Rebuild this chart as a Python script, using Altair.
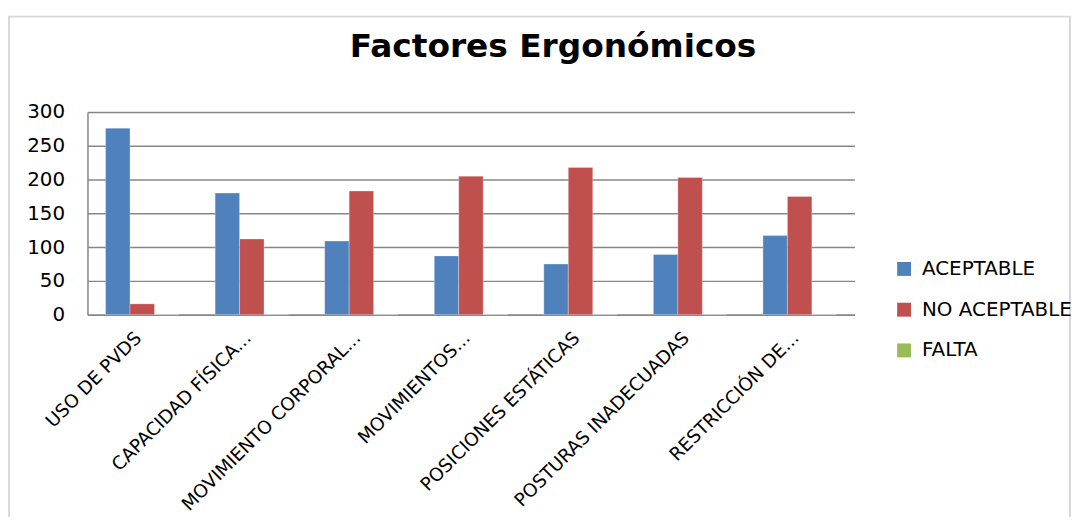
import altair as alt
import pandas as pd

categories = ["USO DE PVDS", "CAPACIDAD FÍSICA...", "MOVIMIENTO CORPORAL...", "MOVIMIENTOS...",
              "POSICIONES ESTÁTICAS", "POSTURAS INADECUADAS", "RESTRICCIÓN DE..."]
series = ["ACEPTABLE", "NO ACEPTABLE", "FALTA"]
aceptable = [276, 180, 109, 87, 75, 89, 117]
no_aceptable = [16, 112, 183, 205, 218, 203, 175]
falta = [0, 0, 0, 0, 0, 0, 0]
colors = ["#4F81BD", "#C0504D", "#9BBB59"]
y_ticks = [0, 50, 100, 150, 200, 250, 300]

rows = []
for vals, s in zip([aceptable, no_aceptable, falta], series):
    for c, v in zip(categories, vals):
        rows.append({"cat": c, "serie": s, "valor": v})
df = pd.DataFrame(rows)

font = "DejaVu Sans"

bars = alt.Chart(df).mark_bar(stroke="#FFFFFF", strokeOpacity=0.5, strokeWidth=0.6).encode(
    x=alt.X("cat:N", sort=categories, title=None,
            scale=alt.Scale(paddingInner=0.33, paddingOuter=0.165),
            axis=alt.Axis(labelAngle=-45, labelAlign="right", labelBaseline="middle",
                          labelFont=font, labelFontSize=18.5, labelColor="#000000",
                          labelPadding=20, labelOffset=-4, ticks=False, domainColor="#868686",
                          domainWidth=1.5, labelLimit=400)),
    xOffset=alt.XOffset("serie:N", sort=series, scale=alt.Scale(paddingInner=0, paddingOuter=0)),
    y=alt.Y("valor:Q", title=None,
            scale=alt.Scale(domain=[0, 300], nice=False),
            axis=alt.Axis(values=y_ticks, labelFont=font, labelFontSize=20, labelColor="#000000",
                          ticks=False, labelPadding=23, gridColor="#868686", gridWidth=1.5,
                          domainColor="#868686", domainWidth=1.5)),
    color=alt.Color("serie:N", sort=series, title=None,
                    scale=alt.Scale(domain=series, range=colors),
                    legend=alt.Legend(orient="none", legendX=812, legendY=148,
                                      symbolType="square", symbolSize=196,
                                      symbolStrokeWidth=0, labelFont=font,
                                      labelFontSize=20, labelColor="#000000",
                                      rowPadding=21, labelOffset=8, padding=0)),
)

frame = alt.Chart(pd.DataFrame({"k": [0]})).mark_rect(
    fill=None, stroke="#D9D9D9", strokeWidth=2
).encode(x=alt.value(-79), x2=alt.value(989), y=alt.value(-96), y2=alt.value(440))

chart = alt.layer(frame, bars).properties(
    width=772, height=204,
    title=alt.TitleParams("Factores Ergonómicos", font=font, fontSize=33, fontWeight="bold",
                          color="#000000", anchor="start", dx=344, offset=-49),
    autosize=alt.AutoSizeParams(type="none"),
    padding={"left": 80, "top": 103, "right": 218, "bottom": 202},
).configure_view(stroke=None)

chart.save("out.html", embed_options={"renderer": "svg", "actions": False})
